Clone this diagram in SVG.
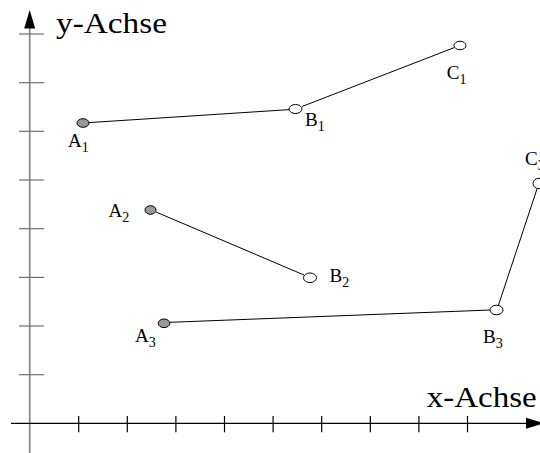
<svg xmlns="http://www.w3.org/2000/svg" width="540" height="453" viewBox="0 0 540 453">
<style>
text{font-family:"Liberation Serif","Times New Roman",serif}
.lbl{font-size:19px;fill:#000}
.sub{font-size:14px}
.ax{font-size:30px;fill:#000}
.seg{stroke:#000;stroke-width:1;fill:none}
.pt{stroke:#000;stroke-width:1}
.full{fill:#999}
.open{fill:#fff}
.ytick{stroke:#707070;stroke-width:1.2}
.xtick{stroke:#000;stroke-width:1.2}
</style>
<rect width="540" height="453" fill="#fff"/>
<g id="axes">
  <line x1="29.7" y1="26" x2="29.7" y2="453" stroke="#808080" stroke-width="1.6"/>
  <polygon points="29.7,10 24.2,28.5 35.2,28.5" fill="#000"/>
  <line x1="11" y1="423.3" x2="528" y2="423.3" stroke="#000" stroke-width="1.2"/>
  <polygon points="544,423.3 526,417.8 526,428.8" fill="#000"/>
  <g class="ytick">
    <line x1="19" y1="34" x2="44" y2="34"/>
    <line x1="19" y1="82.7" x2="44" y2="82.7"/>
    <line x1="19" y1="131.3" x2="44" y2="131.3"/>
    <line x1="19" y1="180" x2="44" y2="180"/>
    <line x1="19" y1="228.7" x2="44" y2="228.7"/>
    <line x1="19" y1="277.4" x2="44" y2="277.4"/>
    <line x1="19" y1="326" x2="44" y2="326"/>
    <line x1="19" y1="374.7" x2="44" y2="374.7"/>
  </g>
  <g class="xtick">
    <line x1="78.7" y1="416" x2="78.7" y2="432.3"/>
    <line x1="127.3" y1="416" x2="127.3" y2="432.3"/>
    <line x1="175.9" y1="416" x2="175.9" y2="432.3"/>
    <line x1="224.5" y1="416" x2="224.5" y2="432.3"/>
    <line x1="273.1" y1="416" x2="273.1" y2="432.3"/>
    <line x1="321.7" y1="416" x2="321.7" y2="432.3"/>
    <line x1="370.3" y1="416" x2="370.3" y2="432.3"/>
    <line x1="418.9" y1="416" x2="418.9" y2="432.3"/>
    <line x1="467.5" y1="416" x2="467.5" y2="432.3"/>
  </g>
  <text class="ax" x="56" y="33.3" textLength="111" lengthAdjust="spacingAndGlyphs">y-Achse</text>
  <text class="ax" x="426.7" y="407.3" textLength="110" lengthAdjust="spacingAndGlyphs">x-Achse</text>
</g>
<g id="connectors">
  <line class="seg" x1="89" y1="122.6" x2="289.5" y2="109.6"/>
  <line class="seg" x1="302" y1="106.5" x2="454.5" y2="47.5"/>
  <line class="seg" x1="156" y1="212" x2="304" y2="275"/>
  <line class="seg" x1="170" y1="322.3" x2="490.5" y2="310"/>
  <line class="seg" x1="498.5" y1="305" x2="537" y2="189"/>
</g>
<g id="A1"><ellipse class="pt full" cx="83" cy="123" rx="6" ry="4.3"/><text class="lbl" x="68" y="146.5">A<tspan class="sub" dy="5">1</tspan></text></g>
<g id="B1"><ellipse class="pt open" cx="295.5" cy="109" rx="6.5" ry="4.5"/><text class="lbl" x="305" y="126">B<tspan class="sub" dy="5">1</tspan></text></g>
<g id="C1"><ellipse class="pt open" cx="460" cy="45.5" rx="6" ry="4.3"/><text class="lbl" x="446.7" y="78.5">C<tspan class="sub" dy="5">1</tspan></text></g>
<g id="A2"><ellipse class="pt full" cx="150.5" cy="210" rx="5.5" ry="4.3"/><text class="lbl" x="108.5" y="216.5">A<tspan class="sub" dy="5">2</tspan></text></g>
<g id="B2"><ellipse class="pt open" cx="310" cy="277.8" rx="6.5" ry="4.8"/><text class="lbl" x="329.5" y="281.5">B<tspan class="sub" dy="5">2</tspan></text></g>
<g id="A3"><ellipse class="pt full" cx="164" cy="323.3" rx="5.8" ry="4.3"/><text class="lbl" x="135" y="341.5">A<tspan class="sub" dy="5">3</tspan></text></g>
<g id="B3"><ellipse class="pt open" cx="496.5" cy="310" rx="6.5" ry="4.8"/><text class="lbl" x="483" y="342.5">B<tspan class="sub" dy="5">3</tspan></text></g>
<g id="C3"><ellipse class="pt open" cx="539" cy="183.5" rx="6" ry="5.2"/><text class="lbl" x="525" y="165">C<tspan class="sub" dy="5">3</tspan></text></g>
</svg>
